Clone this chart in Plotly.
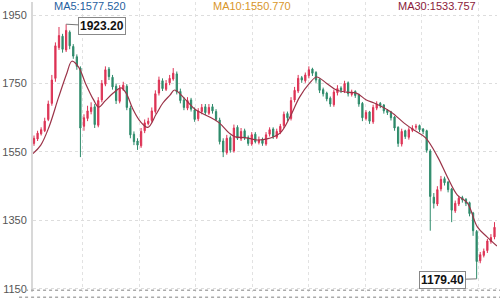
import plotly.graph_objects as go

idx = list(range(130))
opens = [1575,1588,1603,1612,1645,1692,1765,1855,1888,1848,1900,1858,1828,1795,1625,1648,1668,1682,1628,1702,
         1748,1792,1768,1742,1698,1733,1742,1678,1602,1582,1568,1612,1633,1642,1668,1722,1758,1733,1752,1763,
         1778,1727,1702,1678,1702,1673,1647,1668,1682,1663,1682,1668,1643,1582,1548,1592,1553,1622,1588,1612,
         1592,1573,1602,1578,1587,1573,1602,1617,1593,1608,1627,1662,1648,1702,1728,1767,1758,1773,1792,1782,
         1762,1732,1722,1707,1688,1723,1737,1728,1752,1718,1727,1717,1692,1648,1667,1638,1678,1692,1687,1672,
         1667,1652,1622,1573,1612,1593,1613,1622,1627,1617,1612,1553,1418,1398,1442,1472,1462,1442,1378,1398,
         1417,1412,1402,1372,1318,1232,1248,1262,1288,1302]
highs = [1598,1612,1622,1650,1700,1775,1870,1915,1895,1923.2,1905,1865,1835,1800,1660,1685,1695,1690,1710,1760,
         1800,1798,1775,1750,1745,1755,1748,1685,1610,1590,1620,1645,1650,1680,1730,1770,1765,1760,1775,1795,
         1785,1735,1710,1710,1708,1680,1678,1690,1690,1690,1690,1675,1650,1590,1600,1598,1630,1628,1620,1618,
         1598,1608,1608,1595,1592,1608,1622,1622,1618,1632,1668,1668,1710,1740,1775,1772,1782,1800,1796,1786,
         1765,1738,1726,1712,1732,1745,1742,1758,1756,1732,1730,1720,1696,1672,1670,1688,1698,1696,1690,1675,
         1670,1655,1625,1618,1615,1622,1628,1632,1630,1620,1615,1558,1430,1450,1480,1478,1465,1445,1408,1422,
         1422,1415,1405,1375,1322,1258,1268,1296,1310,1345]
lows = [1568,1582,1598,1608,1640,1685,1755,1848,1840,1842,1850,1822,1790,1535,1612,1640,1660,1620,1622,1695,
        1742,1760,1732,1690,1692,1728,1672,1590,1570,1556,1562,1605,1628,1636,1662,1715,1728,1728,1745,1758,
        1718,1692,1672,1672,1668,1638,1640,1660,1658,1658,1662,1640,1572,1535,1542,1548,1548,1585,1582,1585,
        1568,1568,1575,1572,1568,1568,1595,1588,1588,1602,1620,1640,1642,1695,1722,1752,1752,1765,1772,1752,
        1722,1712,1698,1682,1682,1715,1722,1722,1712,1712,1708,1682,1640,1642,1632,1632,1672,1678,1662,1658,
        1642,1612,1565,1566,1588,1586,1608,1615,1608,1602,1548,1320,1385,1392,1435,1452,1432,1345,1372,1392,
        1402,1392,1362,1305,1179.4,1225,1242,1255,1282,1295]
closes = [1590,1605,1615,1640,1690,1760,1860,1890,1850,1905,1860,1830,1800,1620,1650,1670,1680,1630,1700,1750,
          1790,1770,1740,1700,1735,1745,1680,1600,1580,1570,1610,1635,1640,1670,1720,1760,1735,1750,1765,1780,
          1725,1700,1680,1700,1675,1645,1670,1680,1665,1680,1670,1645,1580,1550,1590,1555,1620,1590,1610,1590,
          1575,1600,1580,1585,1575,1600,1615,1595,1610,1625,1660,1650,1700,1730,1765,1760,1775,1790,1780,1760,
          1730,1720,1705,1690,1725,1735,1730,1750,1720,1725,1715,1690,1650,1665,1640,1680,1690,1685,1670,1665,
          1650,1620,1575,1610,1595,1615,1620,1625,1615,1610,1555,1420,1400,1440,1470,1460,1440,1380,1400,1415,
          1410,1400,1370,1320,1230,1250,1260,1290,1300,1330]

ma30_pos = [-0.3,1.9,4.2,6.9,9.2,10.6,12.5,14.4,16.7,18.1,20.0,22.2,24.4,25.8,27.8,29.7,31.9,34.2,36.1,38.1,
            39.4,42.5,45.3,49.2,51.9,54.7,56.4,59.2,62.5,65.3,68.9,71.7,74.4,77.2,79.2,81.9,84.7,87.5,90.3,93.1,
            95.3,100,103.6,106.4,109.7,113.1,115.8,118.6,121.4,124.2,126.9,129.7]
ma30_val = [1545,1570,1623,1710,1780,1815,1798,1751,1702,1681,1700,1722,1737,1722,1673,1640,1622,1660,1693,1716,
            1731,1702,1673,1652,1635,1605,1594,1592,1585,1588,1605,1652,1710,1751,1769,1751,1731,1725,1722,1702,
            1693,1667,1635,1614,1591,1535,1477,1424,1401,1331,1302,1275]

y_ticks = [1150, 1350, 1550, 1750, 1950]
legend_texts = ["MA5:1577.520", "MA10:1550.770", "MA30:1533.757"]
legend_colors = ["#1f5f9f", "#d9962a", "#8b1a3a"]
high_label = "1923.20"
low_label = "1179.40"

fig = go.Figure()
fig.add_trace(go.Candlestick(
    x=idx, open=opens, high=highs, low=lows, close=closes,
    increasing=dict(line=dict(color="#dd3355", width=1), fillcolor="#dd3355"),
    decreasing=dict(line=dict(color="#2e8b6b", width=1), fillcolor="#2e8b6b"),
    whiskerwidth=0, showlegend=False, hoverinfo="skip"))
fig.add_trace(go.Scatter(x=ma30_pos, y=ma30_val, mode="lines",
                         line=dict(color="#9b3348", width=1.2, shape="spline"),
                         showlegend=False, hoverinfo="skip"))

fig.add_annotation(x=9, y=1923.2, text="<b>" + high_label + "</b>", showarrow=True,
                   ax=36, ay=2, arrowhead=0, arrowwidth=1, arrowcolor="#777",
                   bgcolor="white", bordercolor="#888", borderwidth=1, borderpad=1,
                   font=dict(size=12, color="#111", family="Liberation Sans"))
fig.add_annotation(x=124, y=1179.4, text="<b>" + low_label + "</b>", showarrow=True,
                   ax=-34, ay=1, arrowhead=0, arrowwidth=1, arrowcolor="#777",
                   bgcolor="white", bordercolor="#888", borderwidth=1, borderpad=1,
                   font=dict(size=12, color="#111", family="Liberation Sans"))

legend_x = [0.122, 0.472, 0.87]
for t, c, lx in zip(legend_texts, legend_colors, legend_x):
    fig.add_annotation(xref="paper", yref="paper", x=lx, y=0.985, text=t, showarrow=False,
                       xanchor="center", yanchor="middle",
                       font=dict(size=11, color=c, family="Liberation Sans"))

# dotted texture band along the bottom edge
for yy in [0.006, -0.018]:
    fig.add_shape(type="line", xref="paper", yref="paper", x0=-0.03, x1=1.01, y0=yy, y1=yy,
                  line=dict(color="#aaaaaa", width=1.5, dash="dot"), layer="above")

fig.update_layout(
    width=500, height=300, margin=dict(l=29, r=3, t=2, b=8),
    paper_bgcolor="white", plot_bgcolor="white", boxgap=0.5,
    font=dict(family="Liberation Sans", size=11, color="#444"),
    xaxis=dict(range=[-0.28, 129.7], rangeslider=dict(visible=False), showticklabels=False,
               tickmode="linear", tick0=13.6, dtick=15.83, showgrid=True, gridcolor="#e2e2e2",
               griddash="dot", zeroline=False, ticks=""),
    yaxis=dict(range=[1141, 1988], tickvals=y_ticks, showgrid=True, gridcolor="#dddddd",
               griddash="dot", zeroline=False, showline=True, linecolor="#d8d8d8", linewidth=2,
               ticks="", ticklabelstandoff=2, tickfont=dict(size=11, color="#555")),
)

fig.write_html("out.html")
